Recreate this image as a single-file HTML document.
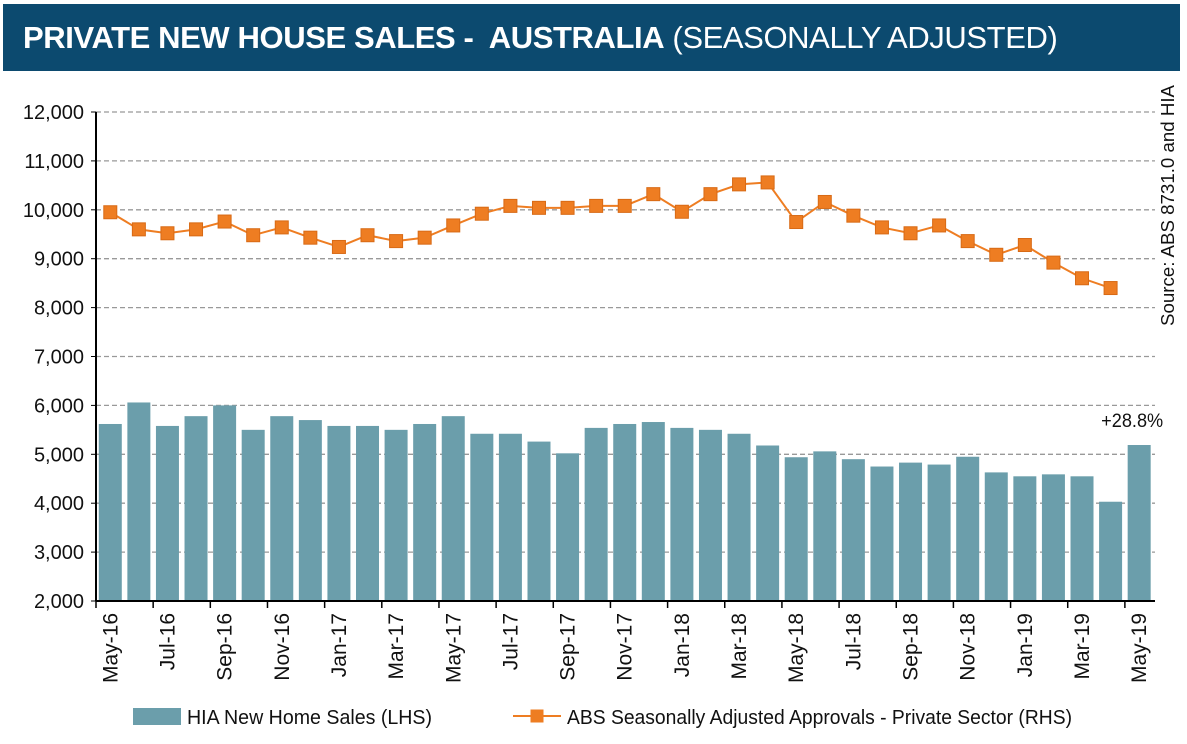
<!DOCTYPE html>
<html><head><meta charset="utf-8"><style>
body{margin:0;background:#fff;width:1187px;height:744px;overflow:hidden;font-family:"Liberation Sans",sans-serif}
#title{position:absolute;left:3px;top:4px;width:1177px;height:67px;background:#0c4a6f;color:#fff;font-size:31px;line-height:67px;box-sizing:border-box;padding-left:20px;white-space:nowrap;letter-spacing:-0.4px}
</style></head><body>
<div id="title"><b>PRIVATE NEW HOUSE SALES -&nbsp; AUSTRALIA</b> (SEASONALLY ADJUSTED)</div>
<svg id="chart" width="1187" height="744" style="position:absolute;left:0;top:0"></svg>
<script>
const months=["May-16","Jun-16","Jul-16","Aug-16","Sep-16","Oct-16","Nov-16","Dec-16","Jan-17","Feb-17","Mar-17","Apr-17","May-17","Jun-17","Jul-17","Aug-17","Sep-17","Oct-17","Nov-17","Dec-17","Jan-18","Feb-18","Mar-18","Apr-18","May-18","Jun-18","Jul-18","Aug-18","Sep-18","Oct-18","Nov-18","Dec-18","Jan-19","Feb-19","Mar-19","Apr-19","May-19"];
const hiaSales=[5620,6060,5580,5780,6000,5500,5780,5700,5580,5580,5500,5620,5780,5420,5420,5260,5020,5540,5620,5660,5540,5500,5420,5180,4940,5060,4900,4750,4830,4790,4950,4630,4550,4590,4550,4030,5190];
const absApprovals=[9950,9600,9520,9600,9760,9480,9640,9430,9240,9480,9360,9430,9680,9920,10080,10040,10040,10080,10080,10320,9960,10320,10520,10560,9750,10160,9880,9640,9520,9680,9360,9080,9280,8920,8600,8400];
const yTicks=[2000,3000,4000,5000,6000,7000,8000,9000,10000,11000,12000];
const NS="http://www.w3.org/2000/svg";
const svg=document.getElementById('chart');
const X0=96,CW=28.58,Y0=601,YT=112;
const y=v=>Y0-(v-2000)/10000*(Y0-YT);
const xc=i=>X0+CW*(i+0.5);
function el(t,a,p){const e=document.createElementNS(NS,t);for(const k in a)e.setAttribute(k,a[k]);(p||svg).appendChild(e);return e;}
yTicks.forEach(v=>{
  if(v>2000){const g=el('line',{x1:X0,x2:1155,y1:y(v),y2:y(v),stroke:'#999','stroke-dasharray':'5,3','stroke-width':1.3});
  
  }
  el('line',{x1:X0-5,x2:X0,y1:y(v),y2:y(v),stroke:'#000'});
  const t=el('text',{x:X0-12,y:y(v)+7,'text-anchor':'end','font-size':20,fill:'#111'});
  t.textContent=v.toLocaleString('en-US');
  
  
});
hiaSales.forEach((v,i)=>{
  const b=el('rect',{x:xc(i)-11.5,y:y(v),width:23,height:Y0-y(v),fill:'#6b9eab'});
  
  
});
el('line',{x1:X0,x2:X0,y1:YT,y2:Y0,stroke:'#000','stroke-width':2});
el('line',{x1:X0,x2:1155,y1:Y0,y2:Y0,stroke:'#000','stroke-width':2});
months.forEach((m,i)=>{
  if(i%2===0){
    el('line',{x1:X0+CW*i,x2:X0+CW*i,y1:Y0,y2:Y0+7,stroke:'#000','stroke-width':1.5});
    const t=el('text',{transform:`translate(${xc(i)+7},${Y0+12}) rotate(-90)`,'text-anchor':'end','font-size':21,fill:'#111'});
    t.textContent=m;
    
    
  }
});
const pts=absApprovals.map((v,i)=>xc(i)+','+y(v)).join(' ');
const ln=el('polyline',{points:pts,fill:'none',stroke:'#ee7d22','stroke-width':2});


absApprovals.forEach((v,i)=>{
  const r=el('rect',{x:xc(i)-6.5,y:y(v)-6.5,width:13,height:13,fill:'#ee7d22',stroke:'#d86a15','stroke-width':1});
  
  
});
const lab=el('text',{x:xc(36)-7,y:y(hiaSales[36])-18,'text-anchor':'middle','font-size':19,fill:'#111',textLength:62,lengthAdjust:'spacingAndGlyphs'});
lab.textContent='+28.8%';


const src=el('text',{transform:'translate(1174,326) rotate(-90)','font-size':18,fill:'#111',textLength:241,lengthAdjust:'spacingAndGlyphs'});
src.textContent='Source: ABS 8731.0 and HIA';


// legend
const l1=el('rect',{x:133,y:708,width:48,height:17,fill:'#6b9eab'});


const t1=el('text',{x:187,y:724,'font-size':20,fill:'#111',textLength:245,lengthAdjust:'spacingAndGlyphs'});t1.textContent='HIA New Home Sales (LHS)';


el('line',{x1:513,x2:561,y1:716,y2:716,stroke:'#ee7d22','stroke-width':2});
const l2=el('rect',{x:530.5,y:709.5,width:13,height:13,fill:'#ee7d22'});


const t2=el('text',{x:567,y:724,'font-size':20,fill:'#111',textLength:505,lengthAdjust:'spacingAndGlyphs'});t2.textContent='ABS Seasonally Adjusted Approvals - Private Sector (RHS)';


</script>
</body></html>
